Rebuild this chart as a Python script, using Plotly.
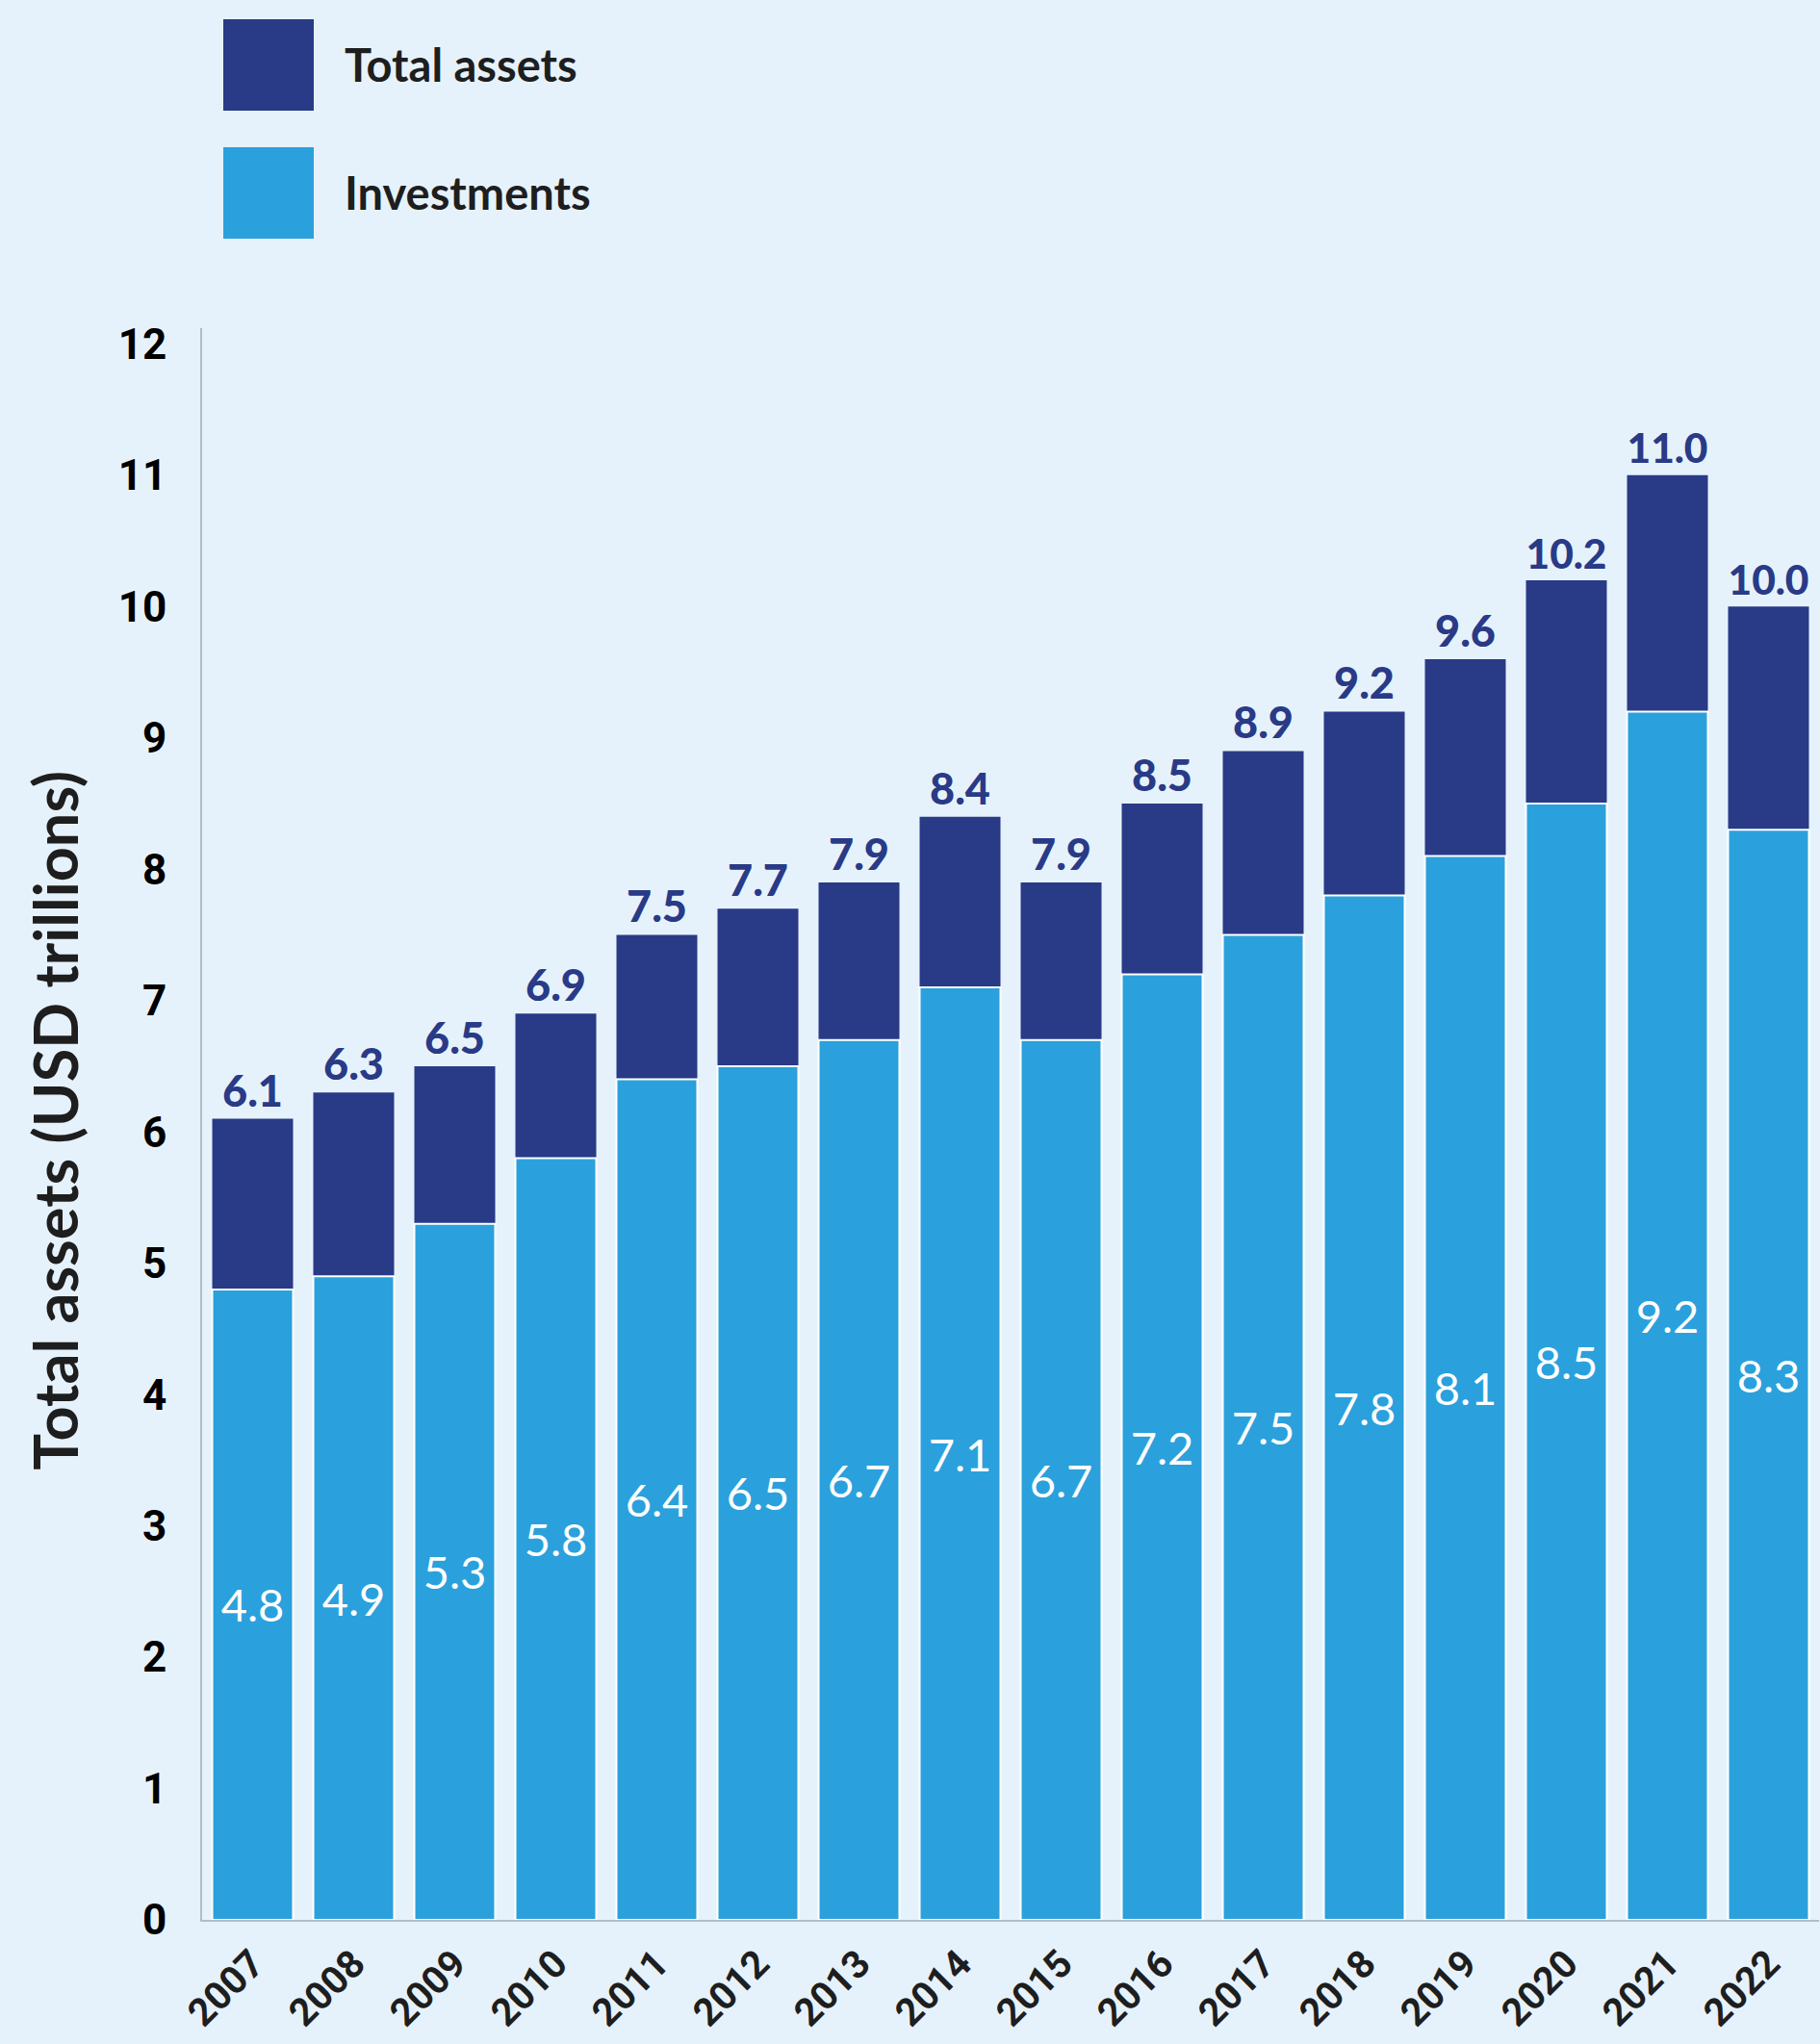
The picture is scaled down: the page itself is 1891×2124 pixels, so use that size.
import plotly.graph_objects as go

# Data (USD trillions)
years = [str(y) for y in range(2007, 2023)]
total_assets = [6.1, 6.3, 6.5, 6.9, 7.5, 7.7, 7.9, 8.4, 7.9, 8.5, 8.9, 9.2, 9.6, 10.2, 11.0, 10.0]
investments = [4.8, 4.9, 5.3, 5.8, 6.4, 6.5, 6.7, 7.1, 6.7, 7.2, 7.5, 7.8, 8.1, 8.5, 9.2, 8.3]
y_ticks = list(range(0, 13))

DARK = "#293a87"
LIGHT = "#2aa1dc"
BG = "#e6f2fb"
AXIS = "#b4bcc4"

W, H = 1891, 2124
M_L, M_R, M_T, M_B = 210, 1, 341, 129
PW, PH = W - M_L - M_R, H - M_T - M_B


def px_x(x):
    return (x - M_L) / PW


def px_y(y):
    return (H - M_B - y) / PH


fig = go.Figure()

fig.add_trace(go.Bar(
    x=years, y=total_assets, name="Total assets",
    marker=dict(color=DARK, line=dict(width=0)),
    text=[f"{v:.1f}" for v in total_assets],
    textposition="outside",
    textfont=dict(family="Lato", size=45, color=DARK, weight=900),
    cliponaxis=False,
))

fig.add_trace(go.Bar(
    x=years, y=investments, name="Investments",
    marker=dict(color=LIGHT, line=dict(width=2, color="white")),
    text=[f"{v:.1f}" for v in investments],
    textposition="inside",
    insidetextanchor="middle",
    textfont=dict(family="Lato", size=47, color="white", weight=400),
    textangle=0,
))

# Custom legend: large swatches with labels
legend_items = [("Total assets", DARK, 20, 115), ("Investments", LIGHT, 153, 248)]
for label, color, top, bot in legend_items:
    fig.add_shape(type="rect", xref="paper", yref="paper",
                  x0=px_x(232), x1=px_x(326), y0=px_y(bot), y1=px_y(top),
                  fillcolor=color, line=dict(width=0), layer="above")
    fig.add_annotation(xref="paper", yref="paper",
                       x=px_x(356), y=px_y((top + bot) / 2),
                       text=label, showarrow=False, xanchor="left", yanchor="middle",
                       font=dict(family="Lato", size=47, color="#1e1e1e", weight=700))

# Y-axis title
fig.add_annotation(xref="paper", yref="paper", x=px_x(57), y=0.502,
                   text="Total assets (USD trillions)", showarrow=False, textangle=-90,
                   xanchor="center", yanchor="middle",
                   font=dict(family="Lato", size=63, color="#1e1e1e", weight=700))

fig.update_layout(
    width=W, height=H,
    margin=dict(l=M_L, r=M_R, t=M_T, b=M_B, pad=0, autoexpand=False),
    paper_bgcolor=BG, plot_bgcolor=BG,
    barmode="overlay", bargap=0.2,
    showlegend=False,
    uniformtext=dict(mode=False),
)

fig.update_xaxes(
    type="category", range=[-0.5, 15.5], automargin=False,
    showline=True, linecolor=AXIS, linewidth=2,
    showgrid=False, ticks="", tickangle=-45,
    tickfont=dict(family="Roboto", size=40, color="#1e1e1e", weight=700),
    ticklabelstandoff=4,
)

fig.update_yaxes(
    range=[0, 12.12], tickvals=y_ticks, automargin=False,
    showline=True, linecolor=AXIS, linewidth=2,
    showgrid=False, zeroline=False, ticks="",
    tickfont=dict(family="Roboto", size=44, color="#000000", weight=700),
    ticklabelstandoff=26,
)

fig.write_html("out.html")
